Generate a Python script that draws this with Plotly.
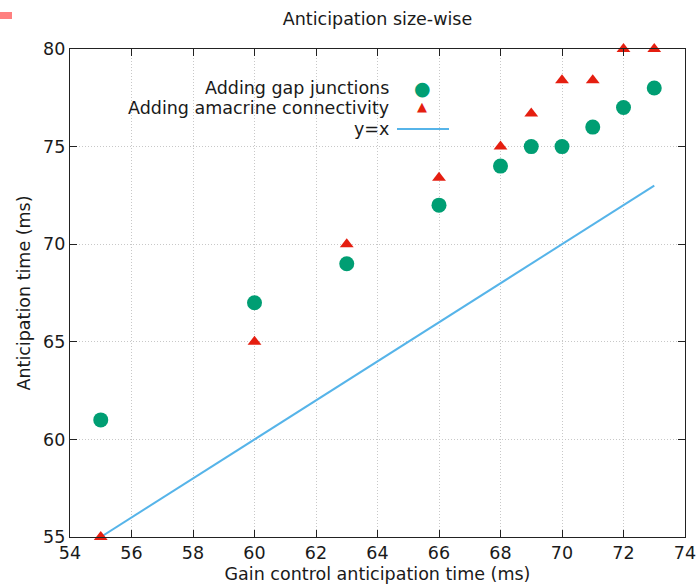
import plotly.graph_objects as go

x_vals = [55, 60, 63, 66, 68, 69, 70, 71, 72, 73]
gap_junctions = [61, 67, 69, 72, 74, 75, 75, 76, 77, 78]
amacrine = [55, 65, 70, 73.4, 75, 76.7, 78.4, 78.4, 80, 80]
line_x = [55, 73]
line_y = [55, 73]

x_ticks = [54, 56, 58, 60, 62, 64, 66, 68, 70, 72, 74]
y_ticks = [55, 60, 65, 70, 75, 80]

FONT = "DejaVu Sans"
FS = 17.5
GREEN = "#009e73"
RED = "#e51e10"
BLUE = "#56b4e9"
TXT = "#1a1a1a"

fig = go.Figure()
fig.add_trace(go.Scatter(x=line_x, y=line_y, mode="lines",
                         line=dict(color=BLUE, width=2), name="y=x",
                         showlegend=False, cliponaxis=False))
fig.add_trace(go.Scatter(x=x_vals, y=gap_junctions, mode="markers",
                         marker=dict(symbol="circle", size=15, color=GREEN),
                         name="Adding gap junctions", showlegend=False,
                         cliponaxis=False))
fig.add_trace(go.Scatter(x=x_vals, y=amacrine, mode="markers",
                         marker=dict(symbol="triangle-up", size=12, color=RED),
                         name="Adding amacrine connectivity", showlegend=False,
                         cliponaxis=False))

L, R, T, B = 70, 11, 49, 49
W, H = 696, 586
pw, ph = W - L - R, H - T - B

def px(x):
    return (x - L) / pw

def py(y):
    return (H - B - y) / ph

legend_items = [("Adding gap junctions", 88), ("Adding amacrine connectivity", 108), ("y=x", 129)]
for text, yy in legend_items:
    fig.add_annotation(x=px(391), y=py(yy), xref="paper", yref="paper",
                       text=text, showarrow=False, xanchor="right", yanchor="middle",
                       font=dict(family=FONT, size=FS, color=TXT))
fig.add_annotation(x=px(422), y=py(88), xref="paper", yref="paper", text="●",
                   showarrow=False, xanchor="center", yanchor="middle",
                   font=dict(family=FONT, size=19, color=GREEN))
fig.add_annotation(x=px(422), y=py(107), xref="paper", yref="paper", text="▲",
                   showarrow=False, xanchor="center", yanchor="middle",
                   font=dict(family=FONT, size=13, color=RED))
fig.add_shape(type="line", xref="paper", yref="paper", x0=px(397), x1=px(449),
              y0=py(129), y1=py(129), line=dict(color=BLUE, width=2))

# small pink mark top-left
fig.add_shape(type="rect", xref="paper", yref="paper", x0=px(0), x1=px(12),
              y0=py(19), y1=py(12), line=dict(width=0), fillcolor="#ff8080")

axis_common = dict(showline=True, linecolor="#222", linewidth=1.2, mirror="ticks",
                   ticks="inside", ticklen=7, tickcolor="#222", tickwidth=1,
                   showgrid=True, gridcolor="#c8c8c8", griddash="1px,2px", gridwidth=1,
                   zeroline=False, automargin=False, ticklabeloverflow="allow",
                   tickfont=dict(family=FONT, size=FS, color=TXT))

fig.update_layout(
    width=W, height=H,
    margin=dict(l=L, r=R, t=T, b=B, autoexpand=False),
    plot_bgcolor="white", paper_bgcolor="white",
    title=dict(text="Anticipation size-wise", x=(L + pw / 2) / W, xanchor="center",
               y=1 - 19 / H, yanchor="middle",
               font=dict(family=FONT, size=FS, color=TXT)),
    xaxis=dict(range=[54, 74], tickvals=x_ticks,
               title=dict(text="Gain control anticipation time (ms)", standoff=5,
                          font=dict(family=FONT, size=FS, color=TXT)),
               **axis_common),
    yaxis=dict(range=[55, 80], tickvals=y_ticks,
               title=dict(text="Anticipation time (ms)", standoff=7,
                          font=dict(family=FONT, size=FS, color=TXT)),
               **axis_common),
    showlegend=False,
)

fig.write_html("out.html", config={"displayModeBar": False},
               post_script="document.body.style.margin='0';")
